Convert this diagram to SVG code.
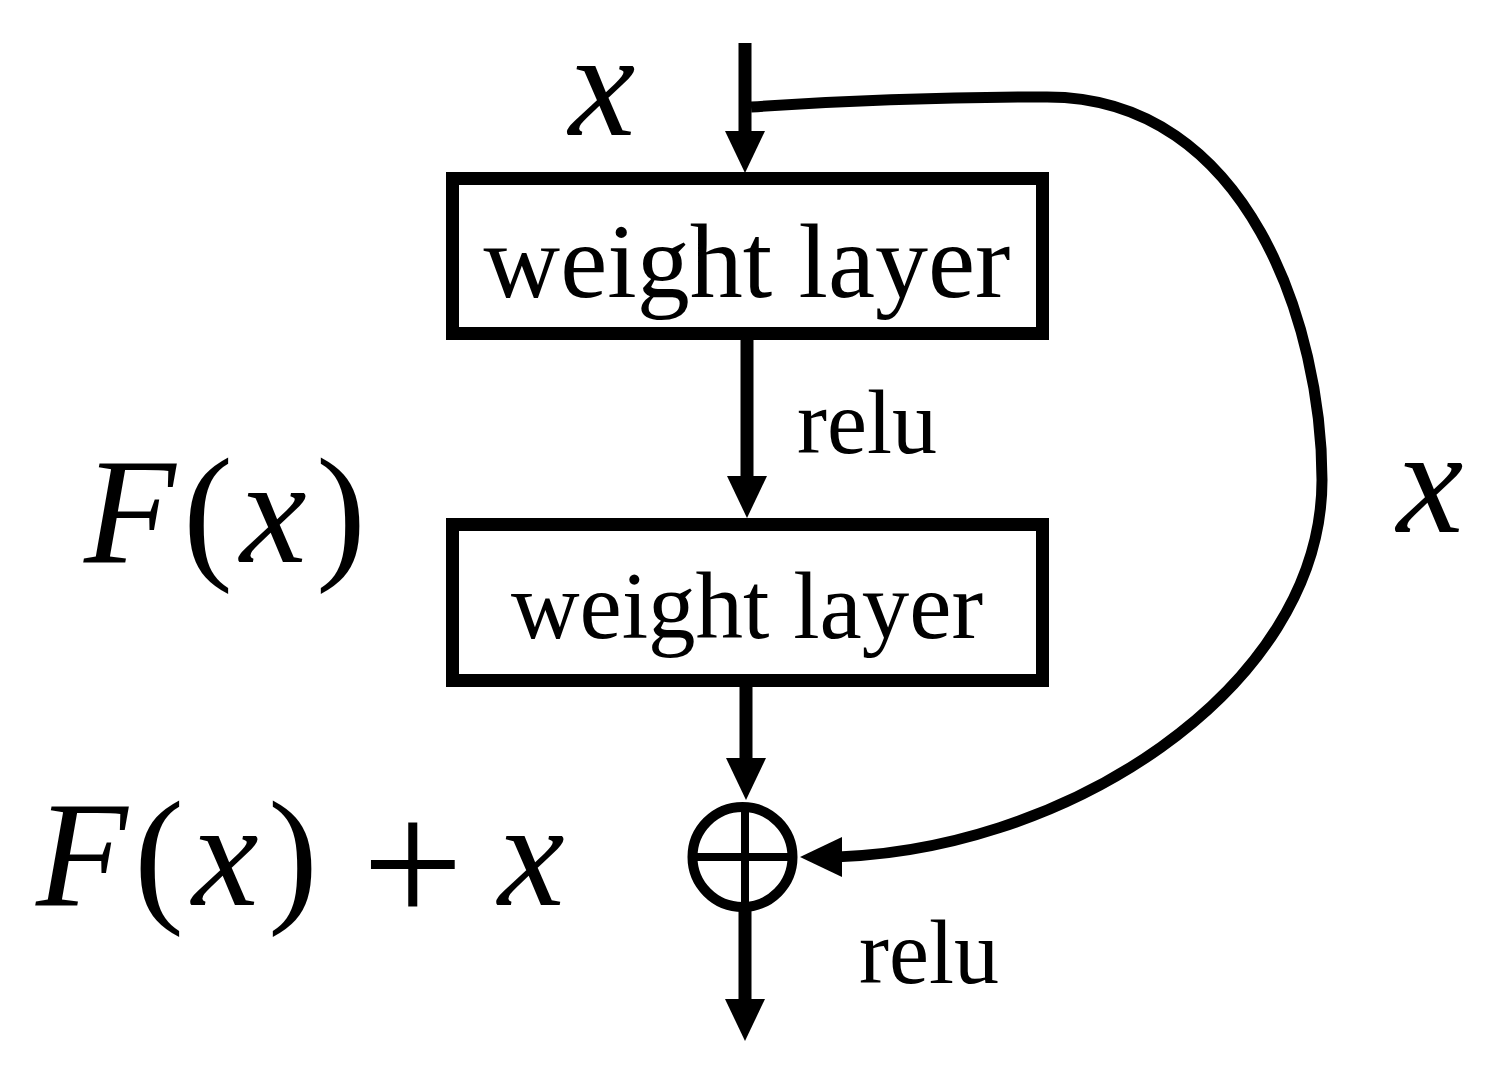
<svg xmlns="http://www.w3.org/2000/svg" width="1507" height="1076" viewBox="0 0 1507 1076">
<style>
.box{fill:#fff;stroke:#000;stroke-width:13}
.lbl{font-family:"Liberation Serif","Times New Roman",serif;fill:#000}
.math{font-family:"Liberation Serif","Times New Roman",serif;font-size:150px;fill:#000}
.it{font-style:italic}
.edge{fill:none;stroke:#000;stroke-width:13}
</style>
<defs>
<marker id="ah" viewBox="0 0 42 40" refX="22" refY="20" markerWidth="42" markerHeight="40" markerUnits="userSpaceOnUse" orient="auto">
<path d="M0,0 L42,20 L0,40 Z" fill="#000"/>
</marker>
</defs>
<rect width="1507" height="1076" fill="#fff"/>
<g id="connectors">
<path class="edge" d="M745 43 V153" marker-end="url(#ah)"/>
<path class="edge" d="M747 340 V498" marker-end="url(#ah)"/>
<path class="edge" d="M746 687 V780" marker-end="url(#ah)"/>
<path class="edge" d="M745 910 V1021" marker-end="url(#ah)"/>
<path class="edge" style="stroke-width:11" d="M751 107 Q 900 97 1047 97 C 1250 97 1322 330 1322 480 C 1322 690 1060 857 820 857" marker-end="url(#ah)"/>
</g>
<g id="node-weight1">
<rect class="box" x="452.5" y="178.5" width="590" height="155"/>
<text class="lbl" x="747" y="297" font-size="106" text-anchor="middle">weight layer</text>
</g>
<g id="node-weight2">
<rect class="box" x="452.5" y="524.5" width="590" height="156"/>
<text class="lbl" x="747" y="638" font-size="95" text-anchor="middle">weight layer</text>
</g>
<g id="node-sum">
<circle cx="742.5" cy="857" r="50" fill="none" stroke="#000" stroke-width="10"/>
<path d="M692 857 H793 M745 807 V907" stroke="#000" stroke-width="8" fill="none"/>
</g>
<g id="labels">
<text class="lbl" x="867" y="453" font-size="90" text-anchor="middle">relu</text>
<text class="lbl" x="929" y="983" font-size="90" text-anchor="middle">relu</text>
<text class="math it" x="602" y="135" text-anchor="middle">x</text>
<text class="math it" x="1430" y="532" text-anchor="middle">x</text>
<text class="math" y="562"><tspan class="it" x="84">F</tspan><tspan x="183">(</tspan><tspan class="it" x="240">x</tspan><tspan x="316">)</tspan></text>
<text class="math" y="905"><tspan class="it" x="36">F</tspan><tspan x="134">(</tspan><tspan class="it" x="192">x</tspan><tspan x="268">)</tspan><tspan class="it" x="498">x</tspan></text>
<text class="math" x="362" y="924" style="font-size:180px">+</text>
</g>
</svg>
